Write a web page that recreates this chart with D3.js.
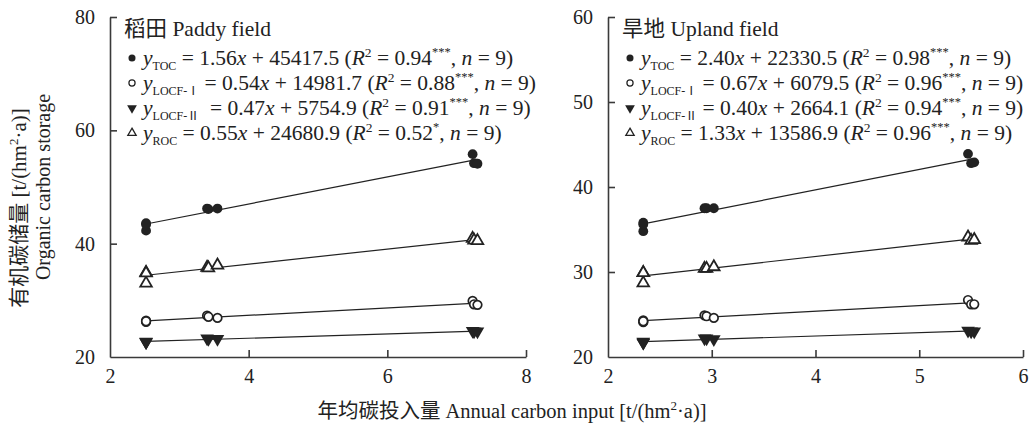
<!DOCTYPE html>
<html>
<head>
<meta charset="utf-8">
<script src="https://cdn.jsdelivr.net/npm/d3@7"></script>
<style>
  html, body { margin: 0; padding: 0; background: #fff; }
  svg { display: block; }
  text { font-family: "Liberation Serif", "Noto Sans CJK SC", serif; fill: #222; }
</style>
</head>
<body>
<svg id="chart" width="1029" height="430"></svg>
<script>
// ---- data ----
const seriesKeys = ["TOC", "LOCF-Ⅰ", "LOCF-Ⅱ", "ROC"];

// paddy field
const paddyX       = [2.52, 2.52, 2.52, 3.40, 3.42, 3.55, 7.23, 7.25, 7.30];
const paddyTOC     = [43.6, 42.3, 43.4, 46.2, 46.1, 46.2, 55.8, 54.2, 54.1];
const paddyLOCF1   = [26.4, 26.2, 26.3, 27.3, 27.1, 26.9, 29.9, 29.3, 29.2];
const paddyLOCF2   = [22.6, 22.6, 22.7, 23.3, 23.2, 23.2, 24.6, 24.5, 24.5];
const paddyROC     = [34.9, 33.0, 34.8, 35.8, 35.7, 36.2, 40.9, 40.6, 40.5];
const paddySlope   = ["1.56", "0.54", "0.47", "0.55"];
const paddyInter   = ["45417.5", "14981.7", "5754.9", "24680.9"];
const paddyR2      = ["0.94", "0.88", "0.91", "0.52"];
const paddySig     = ["***", "***", "***", "*"];
const paddyXTicks  = [2, 4, 6, 8];
const paddyYTicks  = [20, 40, 60, 80];

// upland field
const uplandX      = [2.34, 2.34, 2.34, 2.93, 2.95, 3.02, 5.47, 5.50, 5.53];
const uplandTOC    = [35.8, 34.8, 35.6, 37.5, 37.5, 37.5, 43.9, 42.8, 42.9];
const uplandLOCF1  = [24.3, 24.1, 24.2, 24.9, 24.8, 24.6, 26.7, 26.2, 26.2];
const uplandLOCF2  = [21.7, 21.7, 21.8, 22.2, 22.2, 22.1, 23.1, 23.0, 23.0];
const uplandROC    = [29.9, 28.7, 29.9, 30.4, 30.4, 30.6, 34.1, 33.7, 33.8];
const uplandSlope  = ["2.40", "0.67", "0.40", "1.33"];
const uplandInter  = ["22330.5", "6079.5", "2664.1", "13586.9"];
const uplandR2     = ["0.98", "0.96", "0.94", "0.96"];
const uplandSig    = ["***", "***", "***", "***"];
const uplandXTicks = [2, 3, 4, 5, 6];
const uplandYTicks = [20, 30, 40, 50, 60];

const svg = d3.select("#chart");
const INK = "#222";
const AXIS = "#3a3a3a";

// marker drawing: 0 filled circle, 1 open circle, 2 filled down-triangle, 3 open up-triangle
function marker(sel, i, scale) {
  const s = scale || 1;
  if (i === 0) {
    sel.append("circle").attr("r", 4.9 * s).attr("fill", INK);
  } else if (i === 1) {
    sel.append("circle").attr("r", 4.3 * s).attr("fill", "#fff")
      .attr("stroke", INK).attr("stroke-width", 1.7 * s);
  } else if (i === 2) {
    sel.append("path").attr("d", d3.symbol(d3.symbolTriangle, 80 * s * s)())
      .attr("transform", "rotate(180)").attr("fill", INK);
  } else {
    sel.append("path").attr("d", d3.symbol(d3.symbolTriangle, 58 * s * s)())
      .attr("fill", "#fff").attr("stroke", INK).attr("stroke-width", 1.8 * s);
  }
}

function fit(xs, ys) {
  const mx = d3.mean(xs), my = d3.mean(ys);
  const sxy = d3.sum(xs, (x, i) => (x - mx) * (ys[i] - my));
  const sxx = d3.sum(xs, x => (x - mx) ** 2);
  const b = sxy / sxx;
  return { b, a: my - b * mx };
}

function drawPanel(p) {
  const x = d3.scaleLinear().domain(p.xDomain).range([p.left, p.right]);
  const y = d3.scaleLinear().domain(p.yDomain).range([p.bottom, p.top]);
  const g = svg.append("g");

  // regression lines
  p.series.forEach(ys => {
    const { a, b } = fit(p.xs, ys);
    const x0 = d3.min(p.xs), x1 = d3.max(p.xs);
    g.append("line")
      .attr("x1", x(x0)).attr("y1", y(a + b * x0))
      .attr("x2", x(x1)).attr("y2", y(a + b * x1))
      .attr("stroke", INK).attr("stroke-width", 1.2);
  });

  // points
  p.series.forEach((ys, si) => {
    ys.forEach((v, k) => {
      const m = g.append("g").attr("transform", `translate(${x(p.xs[k])},${y(v)})`);
      marker(m, si);
    });
  });

  // axes (ticks inward)
  const xAxis = g.append("g").attr("transform", `translate(0,${p.bottom})`)
    .call(d3.axisBottom(x).tickValues(p.xTicks).tickFormat(d3.format("d"))
      .tickSizeInner(-7).tickSizeOuter(0).tickPadding(12));
  const yAxis = g.append("g").attr("transform", `translate(${p.left},0)`)
    .call(d3.axisLeft(y).tickValues(p.yTicks).tickFormat(d3.format("d"))
      .tickSizeInner(-7).tickSizeOuter(0).tickPadding(15));
  [xAxis, yAxis].forEach(ax => {
    ax.select(".domain").attr("stroke", AXIS).attr("stroke-width", 1.6);
    ax.selectAll(".tick line").attr("stroke", AXIS).attr("stroke-width", 1.6);
    ax.selectAll(".tick text").attr("font-size", 20)
      .attr("font-family", "Liberation Serif, serif").attr("fill", INK);
  });
  yAxis.selectAll(".tick").filter(d => d === p.yDomain[0]).select("line").remove();
  xAxis.selectAll(".tick").filter(d => d === p.xDomain[0]).select("line").remove();

  // legend
  g.append("text").attr("x", p.legX - 4).attr("y", 36).attr("font-size", 21.5).text(p.title);
  seriesKeys.forEach((key, i) => {
    const cy = 58 + i * 25;
    const m = g.append("g").attr("transform", `translate(${p.legX + 4},${cy})`);
    marker(m, i, 0.72);
    const t = g.append("text").attr("x", p.legX + 15).attr("y", cy + 7).attr("font-size", 21.5);
    t.append("tspan").attr("font-style", "italic").text("y");
    t.append("tspan").attr("font-size", 12).attr("dy", 5).text(key);
    t.append("tspan").attr("dy", -5).text(`${i === 2 && p.extraSpace ? "\u00a0\u00a0" : " "}= ${p.slope[i]}`);
    t.append("tspan").attr("font-style", "italic").text("x");
    t.append("tspan").text(` + ${p.inter[i]} (`);
    t.append("tspan").attr("font-style", "italic").text("R");
    t.append("tspan").attr("font-size", 13.5).attr("dy", -8).text("2");
    t.append("tspan").attr("dy", 8).text(` = ${p.r2[i]}`);
    t.append("tspan").attr("font-size", 12.5).attr("dy", -9).text(p.sig[i]);
    t.append("tspan").attr("dy", 9).text(", ");
    t.append("tspan").attr("font-style", "italic").text("n");
    t.append("tspan").text(" = 9)");
  });
}

drawPanel({
  xs: paddyX, series: [paddyTOC, paddyLOCF1, paddyLOCF2, paddyROC],
  xDomain: [2, 8], yDomain: [20, 80], xTicks: paddyXTicks, yTicks: paddyYTicks,
  left: 110, right: 526, top: 17, bottom: 357,
  title: "稻田 Paddy field", legX: 128,
  slope: paddySlope, inter: paddyInter, r2: paddyR2, sig: paddySig, extraSpace: true
});

drawPanel({
  xs: uplandX, series: [uplandTOC, uplandLOCF1, uplandLOCF2, uplandROC],
  xDomain: [2, 6], yDomain: [20, 60], xTicks: uplandXTicks, yTicks: uplandYTicks,
  left: 608, right: 1023, top: 17, bottom: 357,
  title: "旱地 Upland field", legX: 626,
  slope: uplandSlope, inter: uplandInter, r2: uplandR2, sig: uplandSig, extraSpace: false
});

// axis titles
const yt = svg.append("text").attr("transform", "translate(26,208) rotate(-90)")
  .attr("text-anchor", "middle").attr("font-size", 21);
yt.append("tspan").text("有机碳储量 [t/(hm");
yt.append("tspan").attr("font-size", 13).attr("dy", -8).text("2");
yt.append("tspan").attr("dy", 8).text("·a)]");
svg.append("text").attr("transform", "translate(50,187) rotate(-90)")
  .attr("text-anchor", "middle").attr("font-size", 20).text("Organic carbon storage");

const xt = svg.append("text").attr("x", 512).attr("y", 418)
  .attr("text-anchor", "middle").attr("font-size", 20.5);
xt.append("tspan").text("年均碳投入量 Annual carbon input [t/(hm");
xt.append("tspan").attr("font-size", 13).attr("dy", -8).text("2");
xt.append("tspan").attr("dy", 8).text("·a)]");
</script>
</body>
</html>
